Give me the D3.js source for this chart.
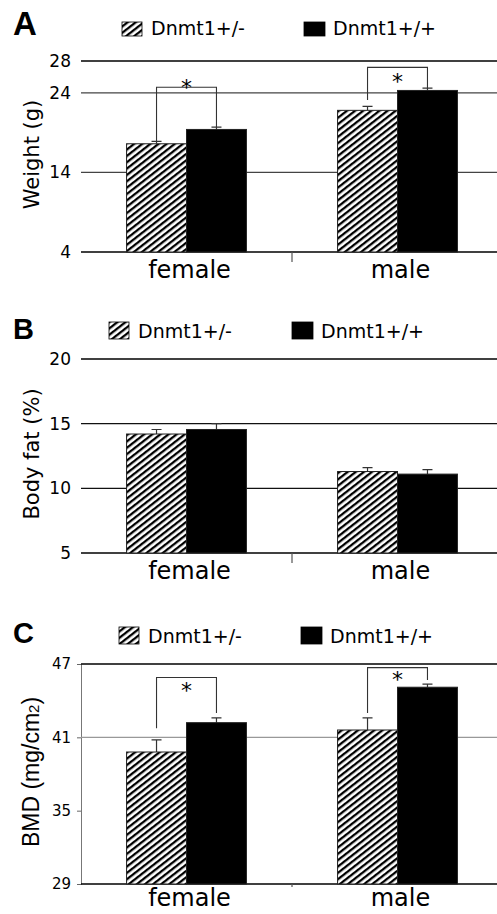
<!DOCTYPE html>
<html>
<head>
<meta charset="utf-8">
<script src="https://cdn.jsdelivr.net/npm/d3@7"></script>
<style>
body { margin: 0; background: #fff; }
text { font-family: "DejaVu Sans", sans-serif; }
</style>
</head>
<body>
<div id="chart"></div>
<script>
var groups = ["female", "male"];
var series = ["Dnmt1+/-", "Dnmt1+/+"];

// A - body weight (g)
var weightHet = [17.6, 21.8];
var weightWt = [19.4, 24.3];
var weightHetErr = [0.3, 0.5];
var weightWtErr = [0.3, 0.3];
var weightTicks = [4, 14, 24, 28];
var weightGrid = [14, 24];
var weightSig = [[24.7, 17.9, 19.7], [27.2, 23.1, 24.6]]; // top, left leg end, right leg end

// B - body fat (%)
var fatHet = [14.2, 11.3];
var fatWt = [14.55, 11.1];
var fatHetErr = [0.35, 0.3];
var fatWtErr = [0.45, 0.35];
var fatTicks = [5, 10, 15, 20];
var fatGrid = [10, 15];

// C - BMD (mg/cm2)
var bmdHet = [39.8, 41.6];
var bmdWt = [42.2, 45.1];
var bmdHetErr = [1.0, 1.0];
var bmdWtErr = [0.4, 0.25];
var bmdTicks = [29, 35, 41, 47];
var bmdGrid = [41];
var bmdSig = [[45.9, 41.75, 43.0], [46.7, 43.0, 45.7]];

var W = 497, H = 914;
var svg = d3.select("#chart").append("svg")
    .attr("width", W)
    .attr("height", H);

var defs = svg.append("defs");
var pat = defs.append("pattern")
    .attr("id", "hatch")
    .attr("patternUnits", "userSpaceOnUse")
    .attr("width", 5)
    .attr("height", 5)
    .attr("patternTransform", "rotate(-38)");
pat.append("rect").attr("width", 5).attr("height", 5).attr("fill", "#fff");
pat.append("rect").attr("width", 5).attr("height", 2.3).attr("fill", "#000");

var panels = [
  {letter: "A", letterY: 35, letterSize: 33, legendY: 22, legendBox: 14,
   legendX: [122, 304], top: 61, bottom: 252, catDy: 26,
   domain: [4, 28], ticks: weightTicks, grid: weightGrid, gridColor: "#444",
   het: weightHet, wt: weightWt, hetErr: weightHetErr, wtErr: weightWtErr,
   sig: weightSig, starDy: [-4, 10],
   label: "Weight (g)", labelFont: "DejaVu Sans", labelSize: 21, tickSize: 17,
   yAxisLine: false, midTick: 10},
  {letter: "B", letterY: 339, letterSize: 29, legendY: 322, legendBox: 17,
   legendX: [109, 292], top: 359, bottom: 553, catDy: 26,
   domain: [5, 20], ticks: fatTicks, grid: fatGrid, gridColor: "#111",
   het: fatHet, wt: fatWt, hetErr: fatHetErr, wtErr: fatWtErr,
   sig: null,
   label: "Body fat (%)", labelFont: "DejaVu Sans", labelSize: 21, tickSize: 17,
   yAxisLine: false, midTick: 10},
  {letter: "C", letterY: 643, letterSize: 29, legendY: 627, legendBox: 17,
   legendX: [119, 301], top: 664, bottom: 884, catDy: 22,
   domain: [29, 47], ticks: bmdTicks, grid: bmdGrid, gridColor: "#999",
   het: bmdHet, wt: bmdWt, hetErr: bmdHetErr, wtErr: bmdWtErr,
   sig: bmdSig, starDy: [9, 7],
   label: "BMD (mg/cm", labelSub: "2", labelFont: "Liberation Sans", labelSize: 23, tickSize: 15,
   yAxisLine: true, midTick: 3}
];

var left = 81, right = 503;

panels.forEach(function(p) {
  var g = svg.append("g");

  var x0 = d3.scaleBand().domain(groups).range([left, right]);
  var x1 = d3.scaleBand().domain(series).range([0, x0.bandwidth()]).paddingOuter(0.76);
  var y = d3.scaleLinear().domain(p.domain).range([p.bottom, p.top]);

  // panel letter
  g.append("text")
      .attr("x", 13)
      .attr("y", p.letterY)
      .style("font-family", "Liberation Sans, Arial, sans-serif")
      .style("font-weight", "bold")
      .style("font-size", p.letterSize + "px")
      .text(p.letter);

  // legend
  series.forEach(function(s, i) {
    g.append("rect")
        .attr("x", p.legendX[i])
        .attr("y", p.legendY)
        .attr("width", i == 0 ? 20 : 21)
        .attr("height", p.legendBox)
        .attr("fill", i == 0 ? "url(#hatch)" : "#000")
        .attr("stroke", "#000")
        .attr("stroke-width", 0.8);
    g.append("text")
        .attr("x", p.legendX[i] + 29)
        .attr("y", p.legendY + p.legendBox - 1)
        .style("font-size", "19px")
        .text(s);
  });

  // y axis
  var yAxis = d3.axisLeft(y).tickValues(p.ticks).tickSize(p.yAxisLine ? 4 : 0).tickPadding(p.yAxisLine ? 6 : 10);
  var ax = g.append("g")
      .attr("transform", "translate(" + left + ",0)")
      .call(yAxis);
  ax.selectAll("text")
      .style("font-family", "DejaVu Sans")
      .style("font-size", p.tickSize + "px")
      .attr("fill", "#000");
  ax.selectAll("line").attr("stroke", "#666");
  ax.select(".domain").attr("stroke", "#777").attr("display", p.yAxisLine ? null : "none");

  // gridlines
  g.selectAll(".grid")
    .data(p.grid)
    .enter().append("line")
      .attr("x1", left).attr("x2", W)
      .attr("y1", function(d) { return y(d); })
      .attr("y2", function(d) { return y(d); })
      .attr("stroke", p.gridColor)
      .attr("stroke-width", 1.3);

  // top and bottom frame lines
  g.selectAll(".frame")
    .data([p.domain[0], p.domain[1]])
    .enter().append("line")
      .attr("x1", left).attr("x2", W)
      .attr("y1", function(d) { return y(d); })
      .attr("y2", function(d) { return y(d); })
      .attr("stroke", "#000")
      .attr("stroke-width", 1.3);

  // bars
  var rows = groups.map(function(gr, i) {
    return [
      {group: gr, s: series[0], v: p.het[i], e: p.hetErr[i]},
      {group: gr, s: series[1], v: p.wt[i], e: p.wtErr[i]}
    ];
  });

  var grp = g.selectAll(".grp")
    .data(rows)
    .enter().append("g")
      .attr("transform", function(d) { return "translate(" + x0(d[0].group) + ",0)"; });

  // error bars (upper only)
  grp.selectAll(".err")
    .data(function(d) { return d; })
    .enter().append("path")
      .attr("d", function(d) {
        var cx = x1(d.s) + x1.bandwidth() / 2;
        return "M" + cx + "," + y(d.v) + "V" + y(d.v + d.e) + "M" + (cx - 5) + "," + y(d.v + d.e) + "H" + (cx + 5);
      })
      .attr("fill", "none")
      .attr("stroke", "#333")
      .attr("stroke-width", 1.2);

  grp.selectAll(".bar")
    .data(function(d) { return d; })
    .enter().append("rect")
      .attr("x", function(d) { return x1(d.s); })
      .attr("width", x1.bandwidth())
      .attr("y", function(d) { return y(d.v); })
      .attr("height", function(d) { return p.bottom - y(d.v); })
      .attr("fill", function(d, i) { return i == 0 ? "url(#hatch)" : "#000"; })
      .attr("stroke", "#222")
      .attr("stroke-width", 1);

  // significance brackets
  if (p.sig) {
    p.sig.forEach(function(s, i) {
      var gx = x0(groups[i]);
      var xl = gx + x1(series[0]) + x1.bandwidth() / 2;
      var xr = gx + x1(series[1]) + x1.bandwidth() / 2;
      g.append("path")
          .attr("d", "M" + xl + "," + y(s[1]) + "V" + y(s[0]) + "H" + xr + "V" + y(s[2]))
          .attr("fill", "none")
          .attr("stroke", "#333")
          .attr("stroke-width", 1.1);
      g.append("text")
          .attr("x", (xl + xr) / 2)
          .attr("y", y(s[0]) + p.starDy[i] + 12)
          .attr("text-anchor", "middle")
          .style("font-size", "22px")
          .text("*");
    });
  }

  // middle tick
  g.append("line")
      .attr("x1", (left + right) / 2).attr("x2", (left + right) / 2)
      .attr("y1", p.bottom).attr("y2", p.bottom + p.midTick)
      .attr("stroke", "#555")
      .attr("stroke-width", 1.2);

  // category labels
  g.selectAll(".cat")
    .data(groups)
    .enter().append("text")
      .attr("x", function(d) { return x0(d) + x0.bandwidth() / 2 + 3; })
      .attr("y", p.bottom + p.catDy)
      .attr("text-anchor", "middle")
      .style("font-size", "24px")
      .text(function(d) { return d; });

  // y label
  var lab = g.append("text")
      .attr("transform", "translate(" + 39 + "," + ((p.top + p.bottom) / 2 - 2) + ") rotate(-90)")
      .attr("text-anchor", "middle")
      .style("font-family", p.labelFont)
      .style("font-size", p.labelSize + "px")
      .text(p.label);
  if (p.labelSub) {
    lab.append("tspan").style("font-size", (p.labelSize * 0.65) + "px").text(p.labelSub);
    lab.append("tspan").text(")");
  }
});
</script>
</body>
</html>
